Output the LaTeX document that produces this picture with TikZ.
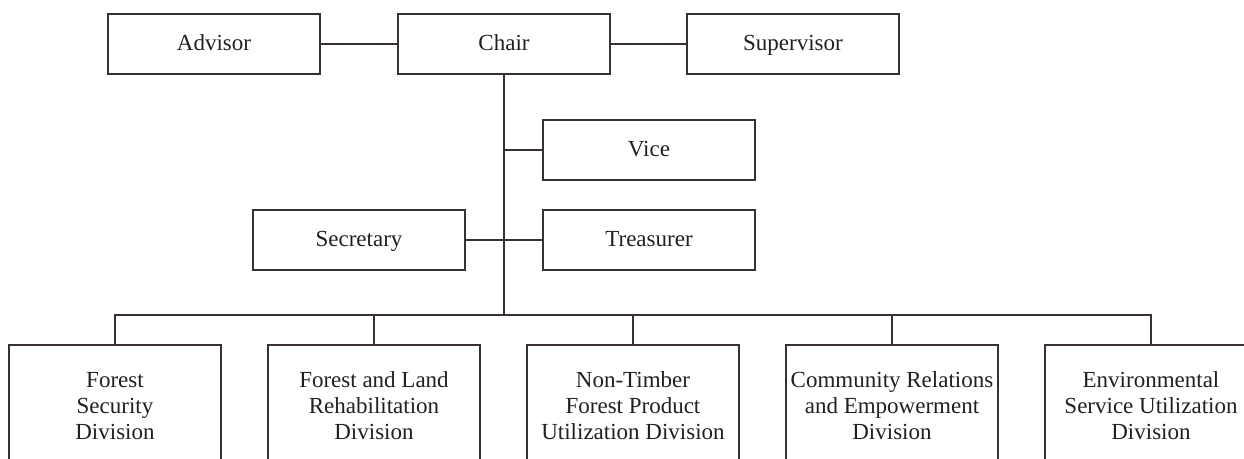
\documentclass[tikz,border=0pt]{standalone}
\usepackage{fontspec}
\setmainfont{Liberation Serif}
\usepackage{tikz}
\usetikzlibrary{calc}
\definecolor{orgline}{RGB}{55,48,47}
\definecolor{orgtext}{RGB}{35,31,32}
\tikzset{
  orgbox/.style={draw=orgline,line width=0.8pt,rectangle,text=orgtext,
    minimum width=106pt,inner sep=0pt,font=\fontsize{11.5}{13}\selectfont},
  office/.style={orgbox,minimum height=30pt,text height=8.4pt,text depth=2pt},
  division/.style={orgbox,minimum height=61pt,align=center},
  link/.style={draw=orgline,line width=0.8pt}
}

\begin{document}
\begin{tikzpicture}[x=0.5pt,y=-0.5pt]

  \useasboundingbox (0,0) rectangle (1244,459);
  \clip (0,0) rectangle (1244,459);

  % top row
  \node [office] (chair) at (504,44) {Chair};
  \node [office] (advisor) at (214,44) {Advisor};
  \node [office] (supervisor) at (793,44) {Supervisor};
  \path [link] (advisor) -- (chair);
  \path [link] (chair) -- (supervisor);

  % board
  \node [office] (vice) at (649,150) {Vice};
  \node [office] (secretary) at (359,240) {Secretary};
  \node [office] (treasurer) at (649,240) {Treasurer};

  \coordinate (bus) at (504,315);
  \coordinate (vicejoin) at (504,150);
  \path [link] (chair.south) -- (bus);
  \path [link] (vicejoin) -- (vice.west);
  \path [link] (secretary.east) -- (treasurer.west);

  % divisions
  \node [division] (security) at (115,406) {Forest\\Security\\Division};
  \node [division] (rehab) at (374,406) {Forest and Land\\Rehabilitation\\Division};
  \node [division] (ntfp) at (633,406) {Non-Timber\\Forest Product\\Utilization Division};
  \node [division] (community) at (892,406) {Community Relations\\and Empowerment\\Division};
  \node [division] (envservice) at (1151,406) {Environmental\\Service Utilization\\Division};

  \path [link] (security.north) |- (bus) -| (envservice.north);
  \foreach \d in {rehab,ntfp,community}
    \path [link] (\d.north) -- (\d.north |- bus);

\end{tikzpicture}
\end{document}
